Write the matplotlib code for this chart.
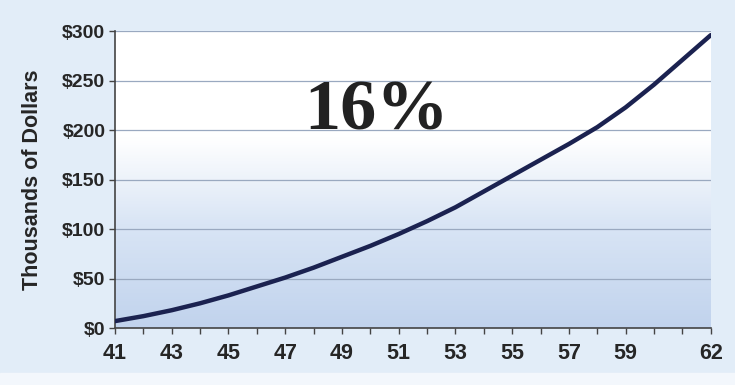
import numpy as np
import matplotlib
matplotlib.use('Agg')
import matplotlib.pyplot as plt
from matplotlib.colors import LinearSegmentedColormap
from matplotlib.patches import Rectangle

# ages and balance (thousands of dollars)
ages = [41, 42, 43, 44, 45, 46, 47, 48, 49, 50, 51,
        52, 53, 54, 55, 56, 57, 58, 59, 60, 61, 62]
balance = [7, 12, 18, 25, 33, 42, 51, 61, 72, 83, 95,
           108, 122, 138, 154, 170, 186, 203, 223, 246, 271, 296]
tick_ages = [41, 43, 45, 47, 49, 51, 53, 55, 57, 59, 62]
y_ticks = [0, 50, 100, 150, 200, 250, 300]
y_labels = ['$0', '$50', '$100', '$150', '$200', '$250', '$300']

fig = plt.figure(figsize=(7.35, 3.85), dpi=100, facecolor='#e2edf8')
fig.patches.append(Rectangle((0, 0), 1, 0.032, transform=fig.transFigure,
                             color='#f3f7fc', zorder=0))
ax = fig.add_axes([0.1565, 0.148, 0.8105, 0.771])

# white-to-blue gradient background
cmap = LinearSegmentedColormap.from_list('bg', [(0, '#c1d3ed'), (0.35, '#d9e5f5'),
                                                (0.64, '#ffffff'), (1, '#ffffff')])
grad = np.linspace(0, 1, 256).reshape(-1, 1)
ax.imshow(grad, aspect='auto', cmap=cmap, origin='lower',
          extent=[41, 62, 0, 300], zorder=0)

for v in y_ticks[1:]:
    ax.axhline(v, color='#9aa9c0', lw=0.9, zorder=1)

ax.plot(ages, balance, color='#1b2250', lw=3.2, solid_capstyle='round', zorder=3)

ax.set_xlim(41, 62)
ax.set_ylim(0, 300)
ax.set_xticks(ages)
ax.set_xticklabels([str(a) if a in tick_ages else '' for a in ages])
ax.set_yticks(y_ticks)
ax.set_yticklabels(y_labels)

for lab in ax.get_xticklabels():
    lab.set_fontfamily('Liberation Sans')
    lab.set_fontweight('bold')
    lab.set_fontsize(15.5)
    lab.set_color('#262626')
for lab in ax.get_yticklabels():
    lab.set_fontfamily('Liberation Sans')
    lab.set_fontweight('bold')
    lab.set_fontsize(14)
    lab.set_color('#262626')

ax.tick_params(axis='both', length=4, width=1, color='#444444', direction='out')
ax.tick_params(axis='x', pad=7)
ax.tick_params(axis='y', pad=3)

for s in ['top', 'right']:
    ax.spines[s].set_visible(False)
for s in ['left', 'bottom']:
    ax.spines[s].set_color('#444444')
    ax.spines[s].set_linewidth(1.2)

ax.set_ylabel('Thousands of Dollars', family='Liberation Sans', fontweight='bold',
              fontsize=15.5, color='#262626', labelpad=14)

ax.text(50.2, 218, '16%', family='Liberation Serif', fontweight='bold',
        fontsize=52, color='#222222', ha='center', va='center', zorder=4)

fig.savefig('out.png', dpi=100, facecolor=fig.get_facecolor())
